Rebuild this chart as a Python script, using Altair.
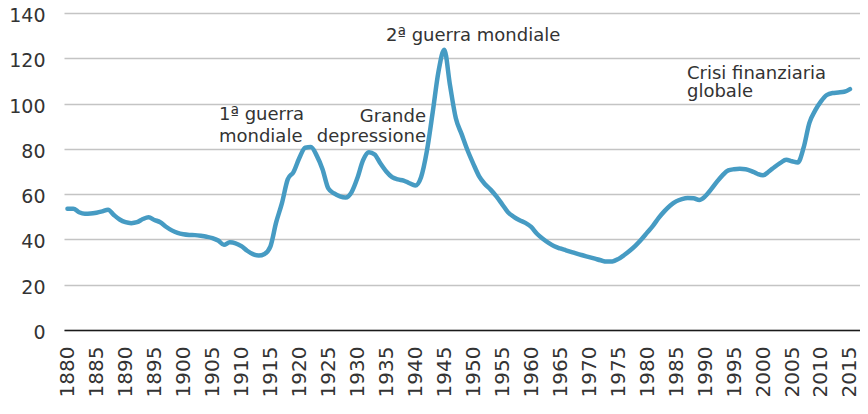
import altair as alt
import pandas as pd

years = list(range(1880, 2016))
debt = [
    53.5, 53.6, 52.0, 51.3, 51.4, 51.8, 52.4, 53.1, 50.8, 48.8,
    47.6, 47.2, 47.6, 49.0, 49.8, 48.6, 47.6, 45.6, 44.0, 42.9,
    42.3, 42.0, 41.9, 41.6, 41.2, 40.6, 39.5, 37.6, 38.7, 38.3,
    37.0, 35.0, 33.5, 32.9, 33.6, 36.8, 47.5, 56.0, 66.5, 69.8,
    76.0, 80.5, 80.8, 77.0, 71.0, 62.5, 60.3, 59.0, 58.5, 60.8,
    67.0, 75.0, 78.5, 77.5, 73.5, 70.0, 67.5, 66.5, 66.0, 64.8,
    63.8, 67.5, 79.0, 96.0, 114.0, 123.8, 108.0, 93.5, 86.5, 79.5,
    73.5, 68.0, 64.5, 62.0, 59.0, 55.5, 52.0, 50.0, 48.5, 47.3,
    45.5, 42.5, 40.3, 38.5, 37.0, 36.0, 35.2, 34.4, 33.6, 32.9,
    32.2, 31.5, 30.8, 30.2, 30.3, 31.3, 33.0, 35.0, 37.3, 40.0,
    43.0, 46.0, 49.5, 52.5, 55.0, 56.8, 57.8, 58.3, 58.2, 57.4,
    59.0, 62.0, 65.3, 68.3, 70.5, 71.0, 71.2, 71.0, 70.2, 69.0,
    68.3, 70.0, 72.0, 73.8, 75.2, 74.5, 74.0, 80.5, 91.5, 97.0,
    101.0, 103.8, 104.7, 104.9, 105.2, 106.4,
]

y_ticks = [0, 20, 40, 60, 80, 100, 120, 140]
x_ticks = list(range(1880, 2016, 5))

# annotations (anchored in data units)
left_text = ["1ª guerra", "mondiale", "2ª guerra mondiale", "Crisi finanziaria", "globale"]
left_year = [1906.14, 1906.14, 1934.95, 1986.88, 1986.88]
left_val = [92.9, 83.2, 127.7, 110.9, 103.0]

right_text = ["Grande", "depressione"]
right_year = [1941.85, 1941.85]
right_val = [91.7, 83.2]

df = pd.DataFrame({"year": years, "debt": debt})
df_left = pd.DataFrame({"t": left_text, "year": left_year, "v": left_val})
df_right = pd.DataFrame({"t": right_text, "year": right_year, "v": right_val})

FONT = "DejaVu Sans"
TXT = "#333333"
x_scale = alt.Scale(domain=[1879.4, 2016.73], nice=False, zero=False)
y_scale = alt.Scale(domain=[0, 140], nice=False)

x_axis = alt.Axis(values=x_ticks, format="d", labelAngle=-90,
                  labelFontSize=20, labelFont=FONT, labelColor=TXT,
                  labelPadding=16, ticks=False, grid=False,
                  domain=True, domainColor="#1a1a1a", domainWidth=1.6,
                  labelOverlap=False, labelFlush=False, labelBound=False)
y_axis = alt.Axis(values=y_ticks, labelFontSize=19, labelFont=FONT,
                  labelColor=TXT, labelPadding=19, labelOffset=2.5,
                  ticks=False, domain=False, grid=True,
                  gridColor="#c4c4c4", gridWidth=1.4)

line = alt.Chart(df).mark_line(
    color="#469bc3", strokeWidth=4.5, interpolate="monotone",
    strokeCap="round", strokeJoin="round"
).encode(
    x=alt.X("year:Q", scale=x_scale, title=None, axis=x_axis),
    y=alt.Y("debt:Q", scale=y_scale, title=None, axis=y_axis),
)

ann_left = alt.Chart(df_left).mark_text(
    align="left", baseline="alphabetic", font=FONT, fontSize=18, color=TXT
).encode(
    x=alt.X("year:Q", scale=x_scale, title=None, axis=x_axis),
    y=alt.Y("v:Q", scale=y_scale, title=None, axis=y_axis),
    text="t:N",
)

ann_right = alt.Chart(df_right).mark_text(
    align="right", baseline="alphabetic", font=FONT, fontSize=18, color=TXT
).encode(
    x=alt.X("year:Q", scale=x_scale, title=None, axis=x_axis),
    y=alt.Y("v:Q", scale=y_scale, title=None, axis=y_axis),
    text="t:N",
)

chart = alt.layer(ann_left, ann_right, line).properties(
    width=796, height=317,
    autosize=alt.AutoSizeParams(type="none"),
    padding={"left": 56, "top": 5, "right": 0, "bottom": 72},
    background="white",
).configure_view(stroke=None)

chart.save("out.html", embed_options={"renderer": "svg", "actions": False})
